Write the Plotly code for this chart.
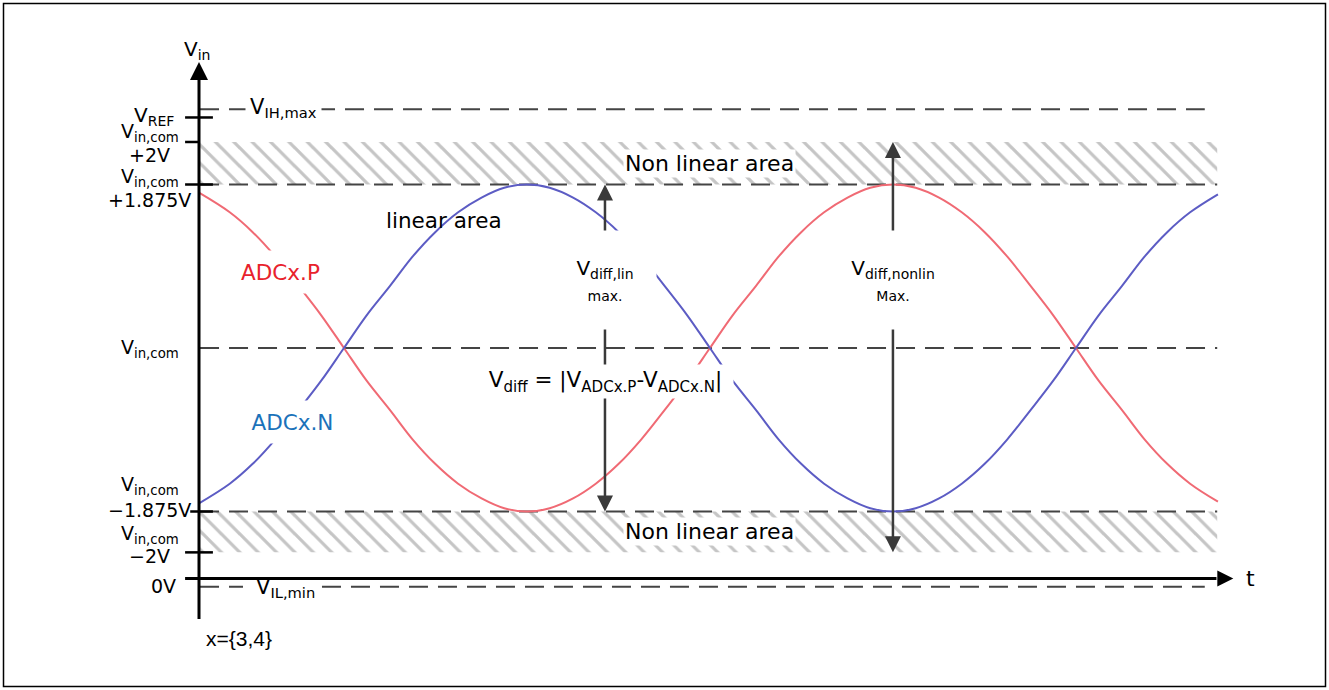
import plotly.graph_objects as go

# schematic time axis: one sine period = 1.0, t = 0 on the V_in axis
t_wave = [0.000, 0.042, 0.073, 0.104, 0.136, 0.167, 0.198, 0.229, 0.261, 0.292, 0.323,
          0.354, 0.386, 0.417, 0.448, 0.479, 0.511, 0.542, 0.573, 0.604, 0.636, 0.667,
          0.698, 0.729, 0.761, 0.792, 0.823, 0.854, 0.886, 0.917, 0.948, 0.979, 1.011,
          1.042, 1.073, 1.104, 1.136, 1.167, 1.198, 1.229, 1.261, 1.292, 1.323, 1.354, 1.392]
adc_p = [0.95, 0.83, 0.71, 0.56, 0.38, 0.20, 0.00, -0.20, -0.38, -0.56, -0.71,
         -0.83, -0.92, -0.98, -1.00, -0.98, -0.92, -0.83, -0.71, -0.56, -0.38, -0.20,
         0.00, 0.20, 0.38, 0.56, 0.71, 0.83, 0.92, 0.98, 1.00, 0.98, 0.92,
         0.83, 0.71, 0.56, 0.38, 0.20, 0.00, -0.20, -0.38, -0.56, -0.71, -0.83, -0.94]
adc_n = [-0.95, -0.83, -0.71, -0.56, -0.38, -0.20, 0.00, 0.20, 0.38, 0.56, 0.71,
         0.83, 0.92, 0.98, 1.00, 0.98, 0.92, 0.83, 0.71, 0.56, 0.38, 0.20,
         0.00, -0.20, -0.38, -0.56, -0.71, -0.83, -0.92, -0.98, -1.00, -0.98, -0.92,
         -0.83, -0.71, -0.56, -0.38, -0.20, 0.00, 0.20, 0.38, 0.56, 0.71, 0.83, 0.94]

# voltage levels on the schematic scale (V_in,com = 0, the 1.875 V swing = 1)
v_ih_max = 1.46
v_ref = 1.41
v_com_p2 = 1.26
v_com_p1875 = 1.0
v_com = 0.0
v_com_m1875 = -1.0
v_com_m2 = -1.25
v_zero = -1.41
v_il_min = -1.46

t_end = 1.391       # end of curves, dashed lines and hatched bands
t_lim_end = 1.374   # end of V_IH,max / V_IL,min lines
t_lin = 0.5546      # V_diff,lin arrow
t_nonlin = 0.948    # V_diff,nonlin arrow

FONT = "DejaVu Sans"
DASH = "#444444"
ARROW = "#3a3a3a"

fig = go.Figure()


def seg(xs, ys, color, width, dash=None):
    fig.add_trace(go.Scatter(x=xs, y=ys, mode="lines",
                             line=dict(color=color, width=width, dash=dash),
                             hoverinfo="skip", showlegend=False))


def heads(xs, ys, symbols, color, size):
    fig.add_trace(go.Scatter(x=xs, y=ys, mode="markers",
                             marker=dict(symbol=symbols, size=size, color=color, line=dict(width=0)),
                             hoverinfo="skip", showlegend=False))


# hatched non linear bands
for lo, hi in [(v_com_p1875, v_com_p2), (v_com_m2, v_com_m1875)]:
    fig.add_trace(go.Scatter(
        x=[0, t_end, t_end, 0, 0], y=[lo, lo, hi, hi, lo],
        fill="toself", mode="lines", line=dict(width=0),
        fillcolor="rgba(0,0,0,0)",
        fillpattern=dict(shape="\\", fgcolor="#8c8c8c", bgcolor="white", size=13, solidity=0.25),
        hoverinfo="skip", showlegend=False))

# dashed level lines (V_IL,min is broken where its label sits)
dash_x, dash_y = [], []
for v, t0, t1 in [(v_ih_max, 0.0014, t_lim_end), (v_com_p1875, 0.0014, t_end),
                  (v_com, 0.0014, t_end), (v_com_m1875, 0.0014, t_end),
                  (v_il_min, 0.0014, 0.0601), (v_il_min, 0.168, t_lim_end)]:
    dash_x += [t0, t1, None]
    dash_y += [v, v, None]
seg(dash_x, dash_y, DASH, 2, "19px,10px")

# ticks on the V_in axis
tick_x, tick_y = [], []
for v, t0, t1 in [(v_ref, -0.019, 0.019), (v_com_p2, -0.019, 0.0), (v_com_p1875, -0.019, 0.019),
                  (v_com_m1875, -0.012, 0.019), (v_com_m2, -0.019, 0.019)]:
    tick_x += [t0, t1, None]
    tick_y += [v, v, None]
seg(tick_x, tick_y, "black", 2.5)

# signals
fig.add_trace(go.Scatter(x=t_wave, y=adc_p, mode="lines", name="ADCx.P",
                         line=dict(color="#f06a74", width=2, shape="spline"), showlegend=False))
fig.add_trace(go.Scatter(x=t_wave, y=adc_n, mode="lines", name="ADCx.N",
                         line=dict(color="#5c5cc4", width=2, shape="spline"), showlegend=False))

# V_diff arrows
seg([t_lin, t_lin], [v_com_p1875 - 0.05, v_com_m1875 + 0.05], ARROW, 2.5)
seg([t_nonlin, t_nonlin], [v_com_p2 - 0.05, v_com_m2 + 0.05], ARROW, 2.5)
heads([t_lin, t_lin, t_nonlin, t_nonlin], [v_com_p1875, v_com_m1875, v_com_p2, v_com_m2],
      ["arrow-up", "arrow-down", "arrow-up", "arrow-down"], ARROW, 16)

# axes
seg([0, 0], [-1.657, 1.70], "black", 3)
seg([-0.019, 1.39], [v_zero, v_zero], "black", 3)
heads([0], [1.749], ["arrow-up"], "black", 18)
heads([1.413], [v_zero], ["arrow-right"], "black", 16)


def label(x, y, text, size=20, color="black", bg=None, w=None, h=None, family=FONT, pad=1):
    fig.add_annotation(x=x, y=y, xref="x", yref="y", text=text, showarrow=False,
                       font=dict(family=family, size=size, color=color),
                       bgcolor=bg, width=w, height=h, borderpad=pad,
                       xanchor="center", yanchor="middle", align="center")


# white boxed texts
label(0.5546, 0.416, "V<sub>diff,lin</sub><br><span style='font-size:14px'>max.</span>",
      bg="white", w=100, h=96)
label(0.948, 0.416, "V<sub>diff,nonlin</sub><br><span style='font-size:14px'>Max.</span>",
      bg="white", w=100, h=96)
label(0.556, -0.202, "V<sub>diff</sub> = |V<sub>ADCx.P</sub>-V<sub>ADCx.N</sub>|",
      size=21.5, bg="white", w=253, h=31)
label(0.111, 0.465, "ADCx.P", size=21.5, color="#e8222c", bg="white", w=95, h=40)
label(0.128, -0.453, "ADCx.N", size=21.5, color="#1b72ba", bg="white", w=95, h=40)
label(0.116, 1.468, "V<sub>IH,max</sub>", size=21, bg="white", pad=4)
label(0.697, 1.131, "Non linear area", size=22, bg="white")
label(0.697, -1.125, "Non linear area", size=22, bg="white")

# plain texts
label(0.1175, -1.468, "V<sub>IL,min</sub>", size=21)
label(0.335, 0.777, "linear area", size=21.5)
label(-0.0027, 1.823, "V<sub>in</sub>", size=20)
label(1.437, v_zero, "t", size=22)

# V_in axis level labels, one line each
label(-0.062, 1.419, "V<sub>REF</sub>", size=20)
label(-0.067, 1.318, "V<sub>in,com</sub>", size=19)
label(-0.067, 1.180, "+2V", size=19)
label(-0.067, 1.043, "V<sub>in,com</sub>", size=19)
label(-0.067, 0.908, "+1.875V", size=19)
label(-0.067, v_com, "V<sub>in,com</sub>", size=19)
label(-0.067, -0.838, "V<sub>in,com</sub>", size=19)
label(-0.067, -0.991, "\u22121.875V", size=19)
label(-0.067, -1.141, "V<sub>in,com</sub>", size=19)
label(-0.067, -1.275, "\u22122V", size=19)
label(-0.049, -1.453, "0V", size=19)
label(0.0546, -1.774, "x={3,4}", size=21, family="Liberation Sans")

# outer frame
fig.add_shape(type="rect", xref="paper", yref="paper",
              x0=3.5 / 1329, x1=1325.5 / 1329, y0=3.5 / 690, y1=686.5 / 690,
              line=dict(color="black", width=1.5))

fig.update_xaxes(visible=False, range=[-199 / 732, 1130 / 732])
fig.update_yaxes(visible=False, range=[-342 / 163.5, 348 / 163.5])
fig.update_layout(width=1329, height=690, margin=dict(l=0, r=0, t=0, b=0, pad=0),
                  paper_bgcolor="white", plot_bgcolor="white", showlegend=False)

fig.write_html("out.html", config={"displayModeBar": False},
               post_script="document.body.style.margin = '0px';")
